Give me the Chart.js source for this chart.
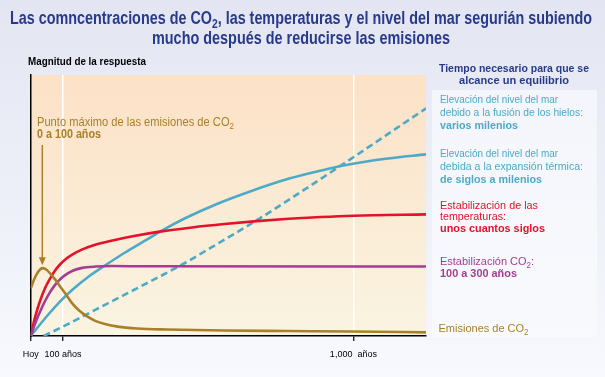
<!DOCTYPE html>
<html>
<head>
<meta charset="utf-8">
<script src="https://cdn.jsdelivr.net/npm/chart.js@4"></script>
<style>
  html, body { margin: 0; padding: 0; background: #eef0f8; }
  #chart { display: block; }
</style>
</head>
<body>
<canvas id="chart" width="605" height="377"></canvas>
<script>
// eje x (años) y etiquetas
var tickValues = [0, 100, 1000];
var tickLabels = ['Hoy', '100 años', '1,000  años'];

// Emisiones de CO2
var emisionesX = [0, 10, 20, 30, 38, 48, 60, 75, 90, 110, 130, 150, 175, 200, 230, 270, 330, 420, 600, 800, 1000, 1225];
var emisionesY = [18.2, 21.5, 24, 25.6, 26, 25.5, 24, 21.8, 19.2, 15.8, 12.3, 9.8, 7.5, 5.8, 4.6, 3.6, 2.9, 2.5, 2.1, 1.9, 1.7, 1.4];

// Estabilización CO2
var co2X = [0, 10, 20, 30, 45, 60, 75, 90, 110, 130, 160, 200, 250, 350, 1225];
var co2Y = [0, 3.5, 6.8, 9.6, 13.5, 16.8, 19.5, 21.6, 23.6, 25, 26.1, 26.6, 26.8, 26.7, 26.6];

// Estabilización de las temperaturas
var temperaturaX = [0, 10, 20, 30, 45, 60, 75, 90, 110, 130, 160, 200, 250, 320, 400, 500, 600, 700, 800, 900, 1000, 1225];
var temperaturaY = [0, 5.5, 10, 13.8, 18.5, 22, 25, 27.3, 29.6, 31.3, 33.2, 35, 36.5, 38.3, 40, 41.6, 42.9, 44, 44.9, 45.6, 46.1, 46.6];

// Nivel del mar - expansión térmica
var expansionX = [0, 30, 60, 90, 130, 180, 230, 290, 354, 401, 480, 577, 680, 804, 900, 969, 1100, 1225];
var expansionY = [0, 4.6, 9, 13.1, 17.8, 22.8, 27, 31.8, 36.5, 40, 45.2, 50.6, 55.4, 60.4, 63.4, 65.3, 67.9, 69.6];

// Nivel del mar - fusión de los hielos
var hielosX = [40, 100, 200, 300, 400, 468, 580, 700, 804, 1000, 1225];
var hielosY = [0, 3.6, 10, 16.4, 22.8, 27.3, 35.4, 44.3, 52.5, 68.5, 87.2];

var FONT = '"Liberation Sans", Arial, Helvetica, sans-serif';
var cBrown = 'rgb(168,128,42)';
var cRed = 'rgb(228,18,42)';
var cMagenta = 'rgb(165,60,145)';
var cCyan = 'rgb(76,170,198)';
var cBlue = 'rgb(40,58,140)';

function pts(xs, ys) {
  return xs.map(function (x, i) { return { x: x, y: ys[i] }; });
}

// texto con subíndices: segs = [[texto, negrita, sub], ...]
function drawRich(ctx, segs, x, y, size, color, align, maxWidth) {
  var widths = [], total = 0;
  segs.forEach(function (s) {
    ctx.font = (s[1] ? 'bold ' : '') + (s[2] ? size * 0.72 : size) + 'px ' + FONT;
    var w = ctx.measureText(s[0]).width;
    widths.push(w);
    total += w;
  });
  var sx = (maxWidth && total > maxWidth) ? maxWidth / total : 1;
  var x0 = align === 'center' ? x - total * sx / 2 : x;
  ctx.save();
  ctx.translate(x0, y);
  ctx.scale(sx, 1);
  ctx.fillStyle = color;
  ctx.textBaseline = 'alphabetic';
  ctx.textAlign = 'left';
  var cx = 0;
  segs.forEach(function (s, i) {
    ctx.font = (s[1] ? 'bold ' : '') + (s[2] ? size * 0.72 : size) + 'px ' + FONT;
    ctx.fillText(s[0], cx, s[2] ? size * 0.22 : 0);
    cx += widths[i];
  });
  ctx.restore();
}

var fondo = {
  id: 'fondo',
  beforeDraw: function (chart) {
    var ctx = chart.ctx, a = chart.chartArea;
    ctx.save();
    var g = ctx.createLinearGradient(0, 0, 0, chart.height);
    g.addColorStop(0, '#e3e5f2');
    g.addColorStop(1, '#f7f9fe');
    ctx.fillStyle = g;
    ctx.fillRect(0, 0, chart.width, chart.height);
    // caja de la derecha
    ctx.fillStyle = 'rgba(250,251,254,0.7)';
    ctx.fillRect(432, 90, 165, 247);
    // zona del gráfico
    var g2 = ctx.createLinearGradient(0, a.top, 0, a.bottom);
    g2.addColorStop(0, '#fce1c6');
    g2.addColorStop(1, '#faf4e2');
    ctx.fillStyle = g2;
    ctx.fillRect(a.left, a.top, a.right - a.left, a.bottom - a.top);
    ctx.restore();
  },
  afterDraw: function (chart) {
    var ctx = chart.ctx, xs = chart.scales.x, ys = chart.scales.y;
    // título
    drawRich(ctx, [['Las comncentraciones de CO', true], ['2', true, true],
      [', las temperaturas y el nivel del mar segurián subiendo', true]], 301, 24, 18, cBlue, 'center', 582);
    drawRich(ctx, [['mucho después de reducirse las emisiones', true]], 301, 44, 18, cBlue, 'center', 298);

    drawRich(ctx, [['Magnitud de la respuesta', true]], 28, 65, 10.5, '#000', 'left', 118);

    // anotación del punto máximo
    drawRich(ctx, [['Punto máximo de las emisiones de CO'], ['2', false, true]], 37, 126, 12.5, cBrown, 'left', 197);
    drawRich(ctx, [['0 a 100 años', true]], 37, 138, 12.5, cBrown, 'left', 64);
    var ax = xs.getPixelForValue(36);
    var tip = ys.getPixelForValue(26) - 3;
    ctx.save();
    ctx.strokeStyle = cBrown;
    ctx.fillStyle = cBrown;
    ctx.lineWidth = 1.5;
    ctx.beginPath();
    ctx.moveTo(ax, 145);
    ctx.lineTo(ax, tip - 6);
    ctx.stroke();
    ctx.beginPath();
    ctx.moveTo(ax - 3.5, tip - 8);
    ctx.lineTo(ax + 3.5, tip - 8);
    ctx.lineTo(ax, tip);
    ctx.closePath();
    ctx.fill();
    ctx.restore();

    // columna derecha
    drawRich(ctx, [['Tiempo necesario para que se', true]], 514, 72, 11.5, cBlue, 'center', 150);
    drawRich(ctx, [['alcance un equilibrio', true]], 514, 84, 11.5, cBlue, 'center', 110);

    var L = 440, s = 11.5;
    drawRich(ctx, [['Elevación del nivel del mar']], L, 103, s, cCyan, 'left', 118);
    drawRich(ctx, [['debido a la fusión de los hielos:']], L, 116, s, cCyan, 'left', 143);
    drawRich(ctx, [['varios milenios', true]], L, 128.5, s, cCyan, 'left', 78);

    drawRich(ctx, [['Elevación del nivel del mar']], L, 157, s, cCyan, 'left', 118);
    drawRich(ctx, [['debida a la expansión térmica:']], L, 170, s, cCyan, 'left', 143);
    drawRich(ctx, [['de siglos a milenios', true]], L, 182.5, s, cCyan, 'left', 102);

    drawRich(ctx, [['Estabilización de las']], L, 208.5, s, cRed, 'left', 98);
    drawRich(ctx, [['temperaturas:']], L, 219.5, s, cRed, 'left', 66);
    drawRich(ctx, [['unos cuantos siglos', true]], L, 232, s, cRed, 'left', 105);

    drawRich(ctx, [['Estabilización CO'], ['2', false, true], [':']], L, 265, s, cMagenta, 'left', 94);
    drawRich(ctx, [['100 a 300 años', true]], L, 276.5, s, cMagenta, 'left', 77);

    drawRich(ctx, [['Emisiones de CO'], ['2', false, true]], 438.5, 332, s, cBrown, 'left', 90);
  }
};

var ctx = document.getElementById('chart').getContext('2d');
var chart = new Chart(ctx, {
  type: 'line',
  data: {
    datasets: [
      { label: 'Emisiones de CO2', data: pts(emisionesX, emisionesY), borderColor: cBrown },
      { label: 'Estabilización CO2', data: pts(co2X, co2Y), borderColor: cMagenta },
      { label: 'Temperaturas', data: pts(temperaturaX, temperaturaY), borderColor: cRed },
      { label: 'Expansión térmica', data: pts(expansionX, expansionY), borderColor: cCyan },
      { label: 'Fusión de los hielos', data: pts(hielosX, hielosY), borderColor: cCyan, borderDash: [7, 4] }
    ]
  },
  options: {
    responsive: false,
    animation: false,
    devicePixelRatio: 1,
    layout: { padding: { left: 30.7, top: 75, right: 179, bottom: 0 } },
    elements: {
      line: { borderWidth: 2.6, cubicInterpolationMode: 'monotone', fill: false },
      point: { radius: 0 }
    },
    plugins: { legend: { display: false }, tooltip: { enabled: false }, title: { display: false } },
    scales: {
      x: {
        type: 'linear',
        min: 0,
        max: 1225,
        afterBuildTicks: function (scale) {
          scale.ticks = tickValues.map(function (v) { return { value: v }; });
        },
        afterFit: function (scale) { scale.height = 41; },
        ticks: {
          autoSkip: false,
          maxRotation: 0,
          padding: 8,
          color: '#000',
          font: { family: FONT, size: 9 },
          callback: function (v) { return tickLabels[tickValues.indexOf(v)]; }
        },
        grid: {
          color: function (c) { return c.tick && c.tick.value === 0 ? 'rgba(0,0,0,0)' : '#ffffff'; },
          lineWidth: 1.5,
          tickColor: '#000',
          tickLength: 5,
          tickWidth: 1.2
        },
        border: { display: true, color: '#000', width: 1.5 }
      },
      y: {
        min: 0,
        max: 100,
        afterFit: function (scale) { scale.width = 0; },
        ticks: { display: false },
        grid: { display: false, drawTicks: false },
        border: { display: true, color: '#000', width: 1.5 }
      }
    }
  },
  plugins: [fondo]
});
</script>
</body>
</html>
